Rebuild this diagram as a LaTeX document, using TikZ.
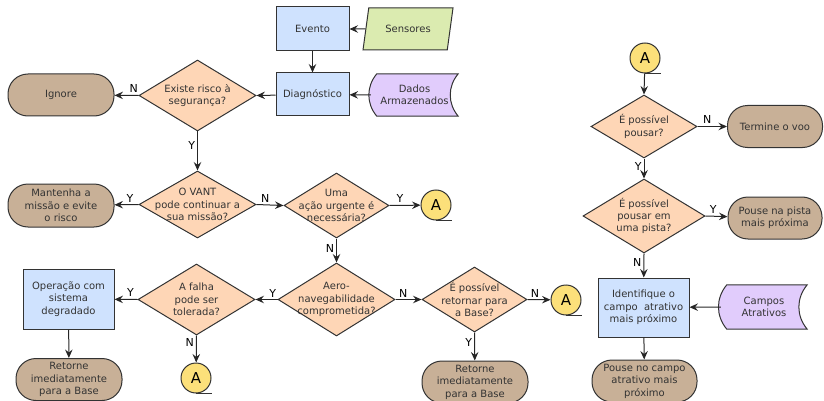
\documentclass[tikz,border=0pt]{standalone}
\usepackage{fontspec}
\setmainfont{DejaVu Sans}
\usepackage{tikz}
\usetikzlibrary{shapes,arrows,positioning,calc,arrows.meta,backgrounds}

\definecolor{procblue}{HTML}{CFE2FE}
\definecolor{decpeach}{HTML}{FED6B6}
\definecolor{termbrown}{HTML}{C8B097}
\definecolor{datapurple}{HTML}{E1CCFC}
\definecolor{conyellow}{HTML}{FCE07A}
\definecolor{inpgreen}{HTML}{DBEBB0}
\definecolor{txtgray}{HTML}{333333}

\tikzset{
  every node/.style={font=\fontsize{10}{12.4}\selectfont, text=txtgray},
  process/.style={draw=black!80, rectangle, fill=procblue, align=center, line width=1pt,
    minimum width=73pt, minimum height=44pt, inner sep=1pt},
  decision/.style={draw=black!80, diamond, fill=decpeach, line width=1pt, inner sep=0pt},
  terminal/.style={draw=black!80, rectangle, rounded corners=20pt, fill=termbrown, align=center,
    line width=1pt, minimum width=106pt, minimum height=42pt, inner sep=1pt},
  stored/.style={rectangle, align=center, minimum width=87pt, minimum height=42pt, inner sep=1pt},
  storedline/.style={draw=black!80, fill=datapurple, line width=1pt},
  connector/.style={draw=black!80, circle, fill=conyellow, line width=1pt, minimum size=30pt,
    inner sep=0pt, font=\fontsize{15}{18}\selectfont, text=black},
  inputbox/.style={draw=black!80, trapezium, trapezium left angle=68, trapezium right angle=112,
    trapezium stretches body, fill=inpgreen, line width=1pt, minimum width=90pt, minimum height=42pt},
  arr/.style={-{Stealth[length=8.5pt,width=7.5pt,inset=3pt]}, line width=1pt, draw=black!85},
  lbl/.style={font=\fontsize{11}{13}\selectfont, text=black, inner sep=2pt}
}

\begin{document}
\begin{tikzpicture}[x=1pt, y=-1pt]
    \useasboundingbox (0,0) rectangle (824,401);

    % Entrada
    \node [process] (evento) at (312.5,29) {Evento};
    \node [inputbox] (sensores) at (408,29) {Sensores};
    \node [process, minimum height=43pt] (diag) at (312.5,94.5) {Diagnóstico};
    \node [stored] (dados) at (414.5,95) {Dados\\Armazenados};
    \begin{scope}[on background layer]
        \draw [storedline] ([xshift=6pt]dados.north west) -- (dados.north east)
            to[bend right=40] (dados.south east) -- ([xshift=6pt]dados.south west)
            to[bend left=40] ([xshift=6pt]dados.north west) -- cycle;
    \end{scope}

    % Coluna da esquerda
    \node [decision, minimum width=117pt, minimum height=71pt,
        label={[align=center]center:Existe risco à\\segurança?}] (risco) at (197.5,95.5) {};
    \node [terminal] (ignore) at (61,95) {Ignore};
    \node [decision, minimum width=117pt, minimum height=67pt,
        label={[align=center]center:O VANT\\pode continuar a\\sua missão?}] (vant) at (197.5,204.5) {};
    \node [terminal, minimum height=43pt] (mantenha) at (61,205.5) {Mantenha a\\missão e evite\\o risco};
    \node [decision, minimum width=105pt, minimum height=65pt,
        label={[align=center]center:Uma\\ação urgente é\\necessária?}] (urgente) at (336.5,205.5) {};
    \node [connector] (a1) at (436,205) {A};
    \node [decision, minimum width=117pt, minimum height=73pt,
        label={[align=center]center:Aero-\\navegabilidade\\comprometida?}] (aero) at (336.5,299.5) {};
    \node [decision, minimum width=117pt, minimum height=71pt,
        label={[align=center]center:A falha\\pode ser\\tolerada?}] (falha) at (196.5,299.5) {};
    \node [process, minimum width=91pt, minimum height=60pt] (oper) at (68.5,299) {Operação com\\sistema\\degradado};
    \node [terminal] (retorne1) at (69,379.5) {Retorne\\imediatamente\\para a Base};
    \node [connector] (a2) at (196,378) {A};
    \node [decision, minimum width=105pt, minimum height=65pt,
        label={[align=center]center:É possível\\retornar para\\a Base?}] (retornar) at (474.5,299.5) {};
    \node [connector] (a3) at (566,300) {A};
    \node [terminal] (retorne2) at (475,382) {Retorne\\imediatamente\\para a Base};

    % Coluna da direita
    \node [connector] (a4) at (645,58) {A};
    \node [decision, minimum width=106pt, minimum height=63pt,
        label={[align=center]center:É possível\\pousar?}] (pousar) at (644,126.5) {};
    \node [terminal, minimum width=95pt] (termine) at (775,126.5) {Termine o voo};
    \node [decision, minimum width=122pt, minimum height=74pt,
        label={[align=center]center:É possível\\pousar em\\uma pista?}] (pista) at (644,216) {};
    \node [terminal, minimum width=94pt] (pousepista) at (775,218) {Pouse na pista\\mais próxima};
    \node [process, minimum width=91pt, minimum height=59pt] (ident) at (643.5,307.5) {Identifique o\\campo\ \ atrativo\\mais próximo};
    \node [stored, minimum width=86pt, minimum height=44pt] (campos) at (764,307) {Campos\\Atrativos};
    \begin{scope}[on background layer]
        \draw [storedline] ([xshift=6pt]campos.north west) -- (campos.north east)
            to[bend right=40] (campos.south east) -- ([xshift=6pt]campos.south west)
            to[bend left=40] ([xshift=6pt]campos.north west) -- cycle;
    \end{scope}
    \node [terminal, minimum width=105pt] (pousecampo) at (644.5,381) {Pouse no campo\\atrativo mais\\próximo};

    % Conectores
    \foreach \c in {a1,a2,a3,a4}
        \draw [line width=1pt, draw=black!80] (\c.south) -- ++(16,0);

    % Setas
    \draw [arr] (sensores) -- (evento);
    \draw [arr] (evento) -- (diag);
    \draw [arr] (dados.west) -- (diag);
    \draw [arr] (diag) -- (risco.east);
    \draw [arr] (risco.west) -- node[lbl, above, pos=0.2] {N} (ignore);
    \draw [arr] (risco.south) -- node[lbl, left, pos=0.35] {Y} (vant.north);
    \draw [arr] (vant.west) -- node[lbl, above, pos=0.36] {Y} (mantenha);
    \draw [arr] (vant.east) -- node[lbl, above, pos=0.32] {N} (urgente.west);
    \draw [arr] (urgente.east) -- node[lbl, above, pos=0.34] {Y} (a1);
    \draw [arr] (urgente.south) -- node[lbl, left, pos=0.42] {N} (aero.north);
    \draw [arr] (aero.west) -- node[lbl, above, pos=0.22] {Y} (falha.east);
    \draw [arr] (falha.west) -- node[lbl, above, pos=0.3] {Y} (oper);
    \draw [arr] (oper) -- (retorne1);
    \draw [arr] (falha.south) -- node[lbl, left, pos=0.25] {N} (a2);
    \draw [arr] (aero.east) -- node[lbl, above, pos=0.3] {N} (retornar.west);
    \draw [arr] (retornar.east) -- node[lbl, above, pos=0.33] {N} (a3);
    \draw [arr] (retornar.south) -- node[lbl, left, pos=0.35] {Y} (retorne2);
    \draw [arr] (a4) -- (pousar.north);
    \draw [arr] (pousar.east) -- node[lbl, above, pos=0.33] {N} (termine);
    \draw [arr] (pousar.south) -- node[lbl, left, pos=0.38] {Y} (pista.north);
    \draw [arr] (pista.east) -- node[lbl, above, pos=0.35] {Y} (pousepista);
    \draw [arr] (pista.south) -- node[lbl, left, pos=0.36] {N} (ident);
    \draw [arr] (campos.west) -- (ident);
    \draw [arr] (ident) -- (pousecampo);
\end{tikzpicture}
\end{document}
